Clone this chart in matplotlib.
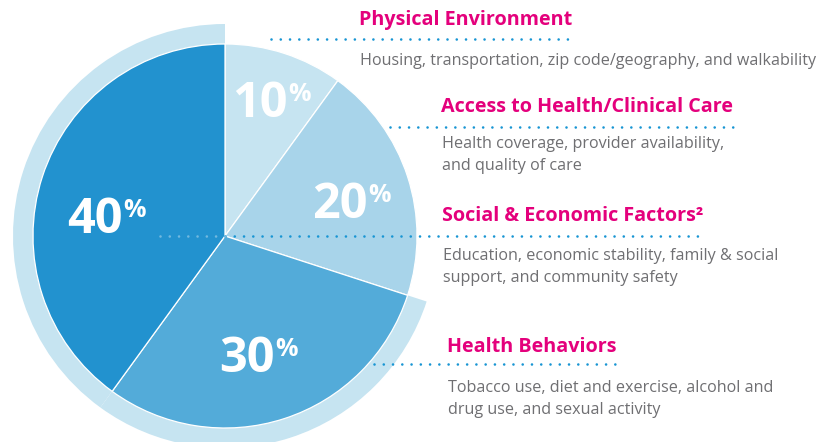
import matplotlib
matplotlib.use("Agg")
import matplotlib.pyplot as plt

# slice values, clockwise from the top
shares = [10, 20, 30, 40]
slice_colors = ["#c6e4f1", "#a8d4ea", "#53abd9", "#2292cf"]
ring_color = "#c6e4f1"

titles = [
    "Physical Environment",
    "Access to Health/Clinical Care",
    "Social & Economic Factors\u00b2",
    "Health Behaviors",
]
descriptions = [
    ["Housing, transportation, zip code/geography, and walkability"],
    ["Health coverage, provider availability,", "and quality of care"],
    ["Education, economic stability, family & social", "support, and community safety"],
    ["Tobacco use, diet and exercise, alcohol and", "drug use, and sexual activity"],
]

# layout (pixel coords, y down)
center = (225, 236)
title_pos = [(359, 25), (441, 112), (442, 221), (447, 352)]
desc_line0 = [65, 148, 260, 392]
line_gap = 21.5
leader_x = [(271, 572), (390, 736), (225, 705), (374, 616)]
leader_y = [39, 127, 236, 364]
pct_anchor = [(288, 117), (368, 218), (275, 372), (123, 233)]

MAGENTA = "#e4007c"
GREY = "#6f6f72"
DOTS = "#1895d3"
FONT = "Open Sans"

fig = plt.figure(figsize=(8.35, 4.42), dpi=100)
ax = fig.add_axes([0, 0, 1, 1])

# light ring behind the 30% and 40% slices
ax.pie(shares, radius=212, center=center, startangle=-90, counterclock=True,
       colors=["none", "none", ring_color, ring_color],
       wedgeprops=dict(linewidth=0), frame=True)
ax.pie(shares, radius=192, center=center, startangle=-90, counterclock=True,
       colors=slice_colors,
       wedgeprops=dict(edgecolor="white", linewidth=0.9), frame=True)

dot_style = dict(lw=1.9, linestyle=(0, (0.01, 3.5)), dash_capstyle="round", zorder=5)
for (x0, x1), y in zip(leader_x, leader_y):
    ax.plot([x0, x1], [y, y], color=DOTS, **dot_style)
# the centre leader continues, paler, over the dark slice
ax.plot([160, 225], [236, 236], color="#72b9df", **dot_style)

for v, (x, y) in zip(shares, pct_anchor):
    ax.text(x, y, str(v), color="white", fontsize=35, fontweight="bold",
            family=FONT, ha="right", va="baseline", zorder=6)
    ax.text(x, y - 35, "%", color="white", fontsize=18, fontweight="bold",
            family=FONT, ha="left", va="top", zorder=6)

for t, (x, y), lines, y0 in zip(titles, title_pos, descriptions, desc_line0):
    ax.text(x, y, t, color=MAGENTA, fontsize=14.2, fontweight="bold",
            family=FONT, ha="left", va="baseline")
    for i, ln in enumerate(lines):
        ax.text(x + 1, y0 + i * line_gap, ln, color=GREY, fontsize=11.6,
                family=FONT, ha="left", va="baseline")

ax.set_xlim(0, 835)
ax.set_ylim(442, 0)
ax.set_aspect("equal")
ax.axis("off")

fig.savefig("out.png", dpi=100)
